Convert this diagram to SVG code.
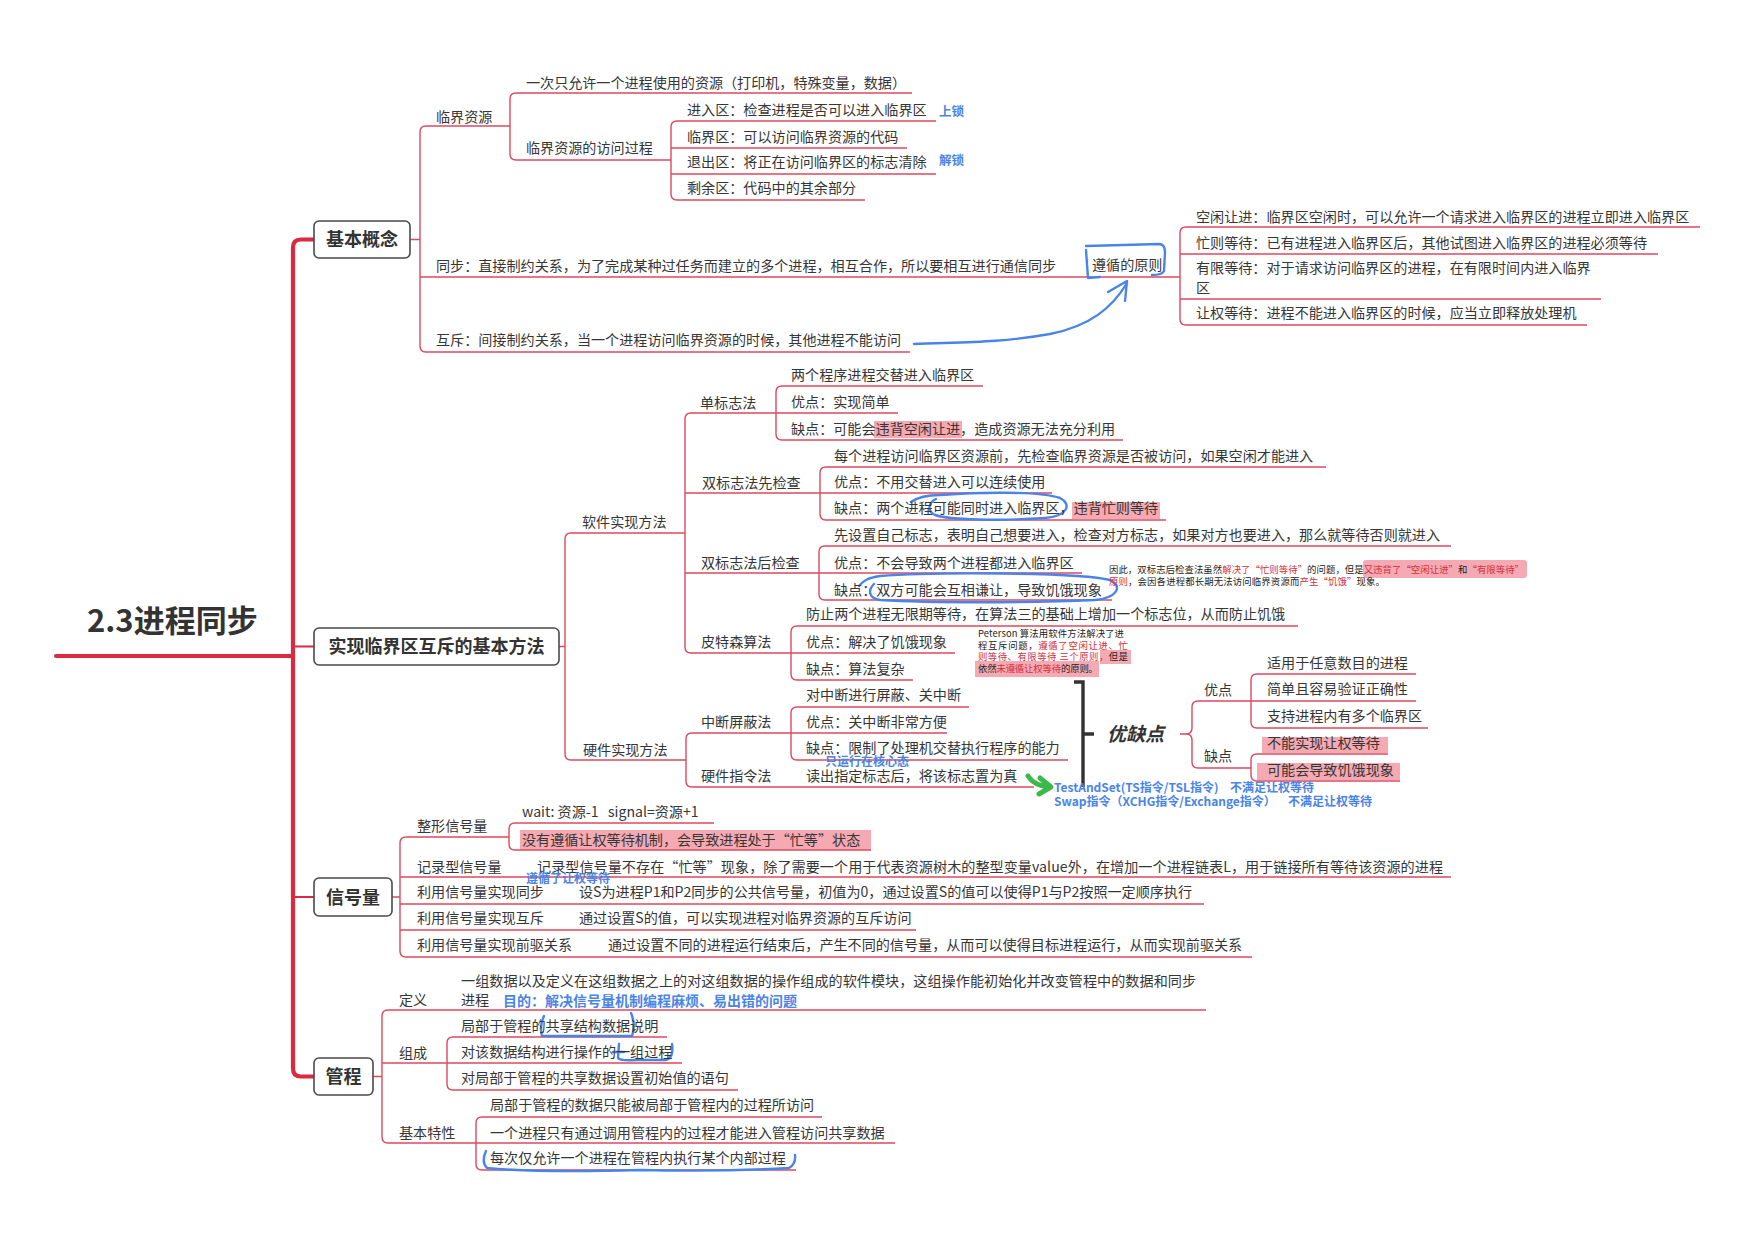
<svg xmlns="http://www.w3.org/2000/svg" width="1755" height="1240" viewBox="0 0 1755 1240">
<style>
.t{font-family:"Noto Sans CJK SC","Noto Sans",sans-serif;font-size:14.1px;fill:#363636}
.bx{fill:#fff;stroke:#4a4a4a;stroke-width:1.6}
.bt{font-family:"Noto Sans CJK SC","Noto Sans",sans-serif;font-size:18px;font-weight:bold;fill:#333;text-anchor:middle}
.ln{fill:none;stroke:#dc4a5e;stroke-width:1.4}
.tr{fill:none;stroke:#d92a3f;stroke-width:4.2;stroke-linecap:round}
.bl{font-family:"Noto Sans CJK SC","Noto Sans",sans-serif;font-weight:bold;fill:#4a84e8}
.hl{fill:#f4a0aa;opacity:0.9}
.sm{font-family:"Noto Sans CJK SC","Noto Sans",sans-serif;font-size:9.4px;fill:#222}
.rd{fill:#d2303c}
.pen{fill:none;stroke:#4a84e8;stroke-width:2.4;stroke-linecap:round;stroke-linejoin:round}
</style>

<!-- highlights -->
<g id="highlights">
<rect class="hl" x="874" y="421" width="88" height="17"/>
<rect class="hl" x="1072" y="502" width="88" height="17"/>
<rect class="hl" x="1363" y="560" width="164" height="18" rx="3"/>
<rect class="hl" x="1100" y="650" width="31" height="14"/>
<rect class="hl" x="975" y="661" width="124" height="16"/>
<rect class="hl" x="1262" y="737" width="126" height="16"/>
<rect class="hl" x="1257" y="763" width="143" height="17"/>
<rect class="hl" x="520" y="830" width="351" height="20"/>
</g>

<!-- connectors -->
<g id="connectors">
<path class="tr" d="M56 656 L293 656"/>
<path class="tr" d="M314 239.5 L301 239.5 Q293 239.5 293 247.5 L293 1068.5 Q293 1076.5 301 1076.5 L314 1076.5"/>
<path fill="none" stroke="#d92a3f" stroke-width="2" d="M293 646.5 L314 646.5 M293 897 L314 897"/>

<!-- 基本概念 -->
<path class="ln" d="M410 239.5 L420 239.5 M426 126 Q420 126 420 132 L420 346 Q420 352 426 352 M426 126 L510 126
M516 93 Q510 93 510 99 L510 154 Q510 160 516 160 M516 93 L912 93 M516 160 L671 160
M677 121 Q671 121 671 127 L671 194 Q671 200 677 200 M677 121 L936 121 M671 148 L907 148 M671 174 L936 174 M677 200 L865 200
M420 277 L1180 277 M1186 227 Q1180 227 1180 233 L1180 319 Q1180 325 1186 325
M1186 227 L1700 227 M1180 254 L1658 254 M1180 299 L1601 299 M1186 325 L1587 325 M426 352 L910 352"/>

<!-- 实现临界区互斥 -->
<path class="ln" d="M559 646.5 L565 646.5 M571 533 Q565 533 565 539 L565 754 Q565 760 571 760 M571 533 L685 533
M691 413 Q685 413 685 419 L685 647 Q685 653 691 653
M691 413 L776 413 M782 386 Q776 386 776 392 L776 434 Q776 440 782 440 M782 386 L983 386 M776 413 L898 413 M782 440 L1123 440
M685 493 L820 493 M826 467 Q820 467 820 473 L820 514 Q820 520 826 520 M826 467 L1326 467 M820 493 L1052 493 M826 520 L1166 520
M685 573 L819 573 M825 546 Q819 546 819 552 L819 594 Q819 600 825 600 M825 546 L1451 546 M819 573 L1082 573 M825 600 L1112 600
M691 653 L791 653 M797 626 Q791 626 791 632 L791 674 Q791 680 797 680 M797 626 L1298 626 M791 653 L955 653 M797 680 L913 680
M571 760 L686 760 M692 733 Q686 733 686 739 L686 781 Q686 787 692 787
M692 733 L791 733 M797 707 Q791 707 791 713 L791 754 Q791 760 797 760 M797 707 L969 707 M791 733 L947 733 M797 760 L1068 760
M692 787 L1034 787"/>

<!-- 优缺点 -->
<path fill="none" stroke="#333" stroke-width="3.4" d="M1074 682 L1083 682 L1083 787 M1083 734 L1094 734"/>
<path class="ln" d="M1180 734 L1186 734 Q1192 734 1192 728 L1192 707 Q1192 701 1198 701 L1251 701
M1186 734 Q1192 734 1192 740 L1192 762 Q1192 768 1198 768 L1251 768
M1257 674 Q1251 674 1251 680 L1251 722 Q1251 728 1257 728 M1257 674 L1416 674 M1251 701 L1416 701 M1257 728 L1428 728
M1257 754 Q1251 754 1251 760 L1251 775 Q1251 781 1257 781 M1257 754 L1388 754 M1257 781 L1400 781"/>

<!-- 信号量 -->
<path class="ln" d="M392 897 L400 897 M406 837 Q400 837 400 843 L400 951 Q400 957 406 957 M406 837 L509 837
M515 823 Q509 823 509 829 L509 844 Q509 850 515 850 M515 823 L714 823 M515 850 L871 850
M400 877 L1451 877 M400 904 L1204 904 M400 930 L916 930 M406 957 L1252 957"/>

<!-- 管程 -->
<path class="ln" d="M373 1076.5 L382 1076.5 M388 1010 Q382 1010 382 1016 L382 1137 Q382 1143 388 1143 M388 1010 L1206 1010
M382 1063 L447 1063 M453 1037 Q447 1037 447 1043 L447 1084 Q447 1090 453 1090 M453 1037 L667 1037 M447 1063 L682 1063 M453 1090 L738 1090
M388 1143 L476 1143 M482 1117 Q476 1117 476 1123 L476 1164 Q476 1170 482 1170 M482 1117 L822 1117 M476 1143 L895 1143 M482 1170 L796 1170"/>

<!-- hand-drawn marks -->
<path class="pen" d="M914 344 C960 342 1000 343 1050 334 C1090 326 1112 308 1127 283 M1108 292 L1127 281 L1125 301"/>
<path class="pen" d="M1086 250 L1088 278 L1100 277 M1086 246 L1160 244 Q1165 245 1165 252 L1164 271 Q1162 275 1152 275"/>
<path class="pen" d="M911 502 C918 497 926 495 940 495 C980 492 1040 491 1060 498 C1072 504 1068 516 1045 518 C1000 521 950 520 935 515 C927 511 928 503 936 499"/>
<path class="pen" d="M859 586 C864 580 868 578 880 576 C930 572 1080 572 1110 580 C1124 587 1116 598 1095 600 C1030 603 930 603 880 600 C868 598 868 590 874 584"/>
<path class="pen" d="M544 1016 Q539 1026 542 1036 L632 1036 Q636 1025 631 1013"/>
<path class="pen" d="M613 1052 L624 1052 M619 1044 L618 1058 Q620 1061 636 1060 L666 1060 Q674 1058 672 1044"/>
<path class="pen" d="M486 1151 Q481 1162 487 1168 Q540 1173 640 1170 Q720 1172 789 1168 Q796 1164 795 1155"/>
<path fill="none" stroke="#3cb94a" stroke-width="5" stroke-linecap="round" stroke-linejoin="round" d="M1028 776 Q1034 786 1050 787 M1040 778 L1051 787 L1039 794"/>
</g>

<!-- title -->
<g id="root"><text x="87" y="632" font-family="Noto Sans CJK SC, sans-serif" font-size="31" font-weight="bold" fill="#333">2.3进程同步</text></g>

<!-- level-1 boxes -->
<g id="n-jbgn"><rect class="bx" x="314" y="221" width="96" height="37" rx="5"/><text class="bt" x="362" y="246">基本概念</text></g>
<g id="n-sxljq"><rect class="bx" x="314" y="628" width="245" height="37" rx="5"/><text class="bt" x="436.5" y="653">实现临界区互斥的基本方法</text></g>
<g id="n-xhl"><rect class="bx" x="314" y="878" width="78" height="38" rx="5"/><text class="bt" x="353" y="903.5">信号量</text></g>
<g id="n-gc"><rect class="bx" x="314" y="1058" width="59" height="37" rx="5"/><text class="bt" x="343.5" y="1083">管程</text></g>

<!-- 基本概念 children -->
<g id="n-ljzy"><text class="t" x="436" y="122">临界资源</text></g>
<g id="n-ljzy1"><text class="t" x="526" y="88" textLength="380">一次只允许一个进程使用的资源（打印机，特殊变量，数据）</text></g>
<g id="n-fwgc"><text class="t" x="526" y="153">临界资源的访问过程</text></g>
<g id="n-jrq"><text class="t" x="687" y="115">进入区：检查进程是否可以进入临界区</text></g>
<g id="n-ljq"><text class="t" x="687" y="142">临界区：可以访问临界资源的代码</text></g>
<g id="n-tcq"><text class="t" x="687" y="167">退出区：将正在访问临界区的标志清除</text></g>
<g id="n-syq"><text class="t" x="687" y="193">剩余区：代码中的其余部分</text></g>
<g id="a-ss"><text class="bl" x="939" y="116" font-size="12.5">上锁</text></g>
<g id="a-js"><text class="bl" x="939" y="165" font-size="12.5">解锁</text></g>
<g id="n-tb"><text class="t" x="436" y="271">同步：直接制约关系，为了完成某种过任务而建立的多个进程，相互合作，所以要相互进行通信同步</text></g>
<g id="n-zxyz"><text class="t" x="1092" y="270">遵循的原则</text></g>
<g id="n-kxrj"><text class="t" x="1196" y="222">空闲让进：临界区空闲时，可以允许一个请求进入临界区的进程立即进入临界区</text></g>
<g id="n-mzdd"><text class="t" x="1196" y="248">忙则等待：已有进程进入临界区后，其他试图进入临界区的进程必须等待</text></g>
<g id="n-yxdd"><text class="t" x="1196" y="273">有限等待：对于请求访问临界区的进程，在有限时间内进入临界</text><text class="t" x="1196" y="293">区</text></g>
<g id="n-rqdd"><text class="t" x="1196" y="318">让权等待：进程不能进入临界区的时候，应当立即释放处理机</text></g>
<g id="n-hc"><text class="t" x="436" y="345">互斥：间接制约关系，当一个进程访问临界资源的时候，其他进程不能访问</text></g>

<!-- 实现临界区互斥 children -->
<g id="n-rj"><text class="t" x="582" y="527">软件实现方法</text></g>
<g id="n-dbz"><text class="t" x="700" y="408">单标志法</text></g>
<g id="n-dbz1"><text class="t" x="791" y="380">两个程序进程交替进入临界区</text></g>
<g id="n-dbz2"><text class="t" x="791" y="407">优点：实现简单</text></g>
<g id="n-dbz3"><text class="t" x="791" y="434">缺点：可能会违背空闲让进，造成资源无法充分利用</text></g>
<g id="n-sxj"><text class="t" x="702" y="488">双标志法先检查</text></g>
<g id="n-sxj1"><text class="t" x="834" y="461">每个进程访问临界区资源前，先检查临界资源是否被访问，如果空闲才能进入</text></g>
<g id="n-sxj2"><text class="t" x="834" y="487">优点：不用交替进入可以连续使用</text></g>
<g id="n-sxj3"><text class="t" x="834" y="513">缺点：两个进程可能同时进入临界区，违背忙则等待</text></g>
<g id="n-shj"><text class="t" x="701" y="568">双标志法后检查</text></g>
<g id="n-shj1"><text class="t" x="834" y="540">先设置自己标志，表明自己想要进入，检查对方标志，如果对方也要进入，那么就等待否则就进入</text></g>
<g id="n-shj2"><text class="t" x="834" y="568">优点：不会导致两个进程都进入临界区</text></g>
<g id="n-shj3"><text class="t" x="834" y="595">缺点：双方可能会互相谦让，导致饥饿现象</text></g>
<g id="a-shj"><text class="sm" x="1109" y="573" textLength="415">因此，双标志后检查法虽然<tspan class="rd">解决了“忙则等待”</tspan>的问题，但是<tspan class="rd">又违背了“空闲让进”</tspan>和<tspan class="rd">“有限等待”</tspan></text>
<text class="sm" x="1109" y="585" textLength="276"><tspan class="rd">原则</tspan>，会因各进程都长期无法访问临界资源而<tspan class="rd">产生“饥饿”</tspan>现象。</text></g>
<g id="n-pts"><text class="t" x="701" y="647">皮特森算法</text></g>
<g id="n-pts1"><text class="t" x="806" y="619">防止两个进程无限期等待，在算法三的基础上增加一个标志位，从而防止饥饿</text></g>
<g id="n-pts2"><text class="t" x="806" y="647">优点：解决了饥饿现象</text></g>
<g id="n-pts3"><text class="t" x="806" y="674">缺点：算法复杂</text></g>
<g id="a-pts"><text class="sm" x="978" y="637" textLength="146">Peterson 算法用软件方法解决了进</text>
<text class="sm" x="978" y="648.5" textLength="150">程互斥问题，<tspan class="rd">遵循了空闲让进、忙</tspan></text>
<text class="sm" x="978" y="660" textLength="150"><tspan class="rd">则等待、有限等待 三个原则，</tspan>但是</text>
<text class="sm" x="978" y="671.5" textLength="120">依然<tspan class="rd">未遵循让权等待</tspan>的原则。</text></g>
<g id="n-yj"><text class="t" x="583" y="755">硬件实现方法</text></g>
<g id="n-zd"><text class="t" x="701" y="727">中断屏蔽法</text></g>
<g id="n-zd1"><text class="t" x="806" y="700">对中断进行屏蔽、关中断</text></g>
<g id="n-zd2"><text class="t" x="806" y="727">优点：关中断非常方便</text></g>
<g id="n-zd3"><text class="t" x="806" y="753">缺点：限制了处理机交替执行程序的能力</text></g>
<g id="a-hxt"><text class="bl" x="825" y="766" font-size="12">只运行在核心态</text></g>
<g id="n-zl"><text class="t" x="701" y="781">硬件指令法</text><text class="t" x="806" y="781">读出指定标志后，将该标志置为真</text></g>
<g id="a-ts"><text class="bl" x="1054" y="792" font-size="12">TestAndSet(TS指令/TSL指令)<tspan x="1230">不满足让权等待</tspan></text>
<text class="bl" x="1054" y="806" font-size="12">Swap指令（XCHG指令/Exchange指令）<tspan x="1288">不满足让权等待</tspan></text></g>

<!-- 优缺点 -->
<g id="n-yqd"><text x="1107" y="741" font-family="Noto Sans CJK SC, sans-serif" font-size="19" font-weight="bold" font-style="italic" fill="#333">优缺点</text></g>
<g id="n-yd"><text class="t" x="1204" y="695">优点</text></g>
<g id="n-yd1"><text class="t" x="1267" y="668">适用于任意数目的进程</text></g>
<g id="n-yd2"><text class="t" x="1267" y="694">简单且容易验证正确性</text></g>
<g id="n-yd3"><text class="t" x="1267" y="721">支持进程内有多个临界区</text></g>
<g id="n-qd"><text class="t" x="1204" y="761">缺点</text></g>
<g id="n-qd1"><text class="t" x="1267" y="748">不能实现让权等待</text></g>
<g id="n-qd2"><text class="t" x="1267" y="775">可能会导致饥饿现象</text></g>

<!-- 信号量 children -->
<g id="n-zx"><text class="t" x="417" y="831">整形信号量</text></g>
<g id="n-zx1"><text class="t" x="522" y="817">wait: 资源-1<tspan x="608">signal=资源+1</tspan></text></g>
<g id="n-zx2"><text class="t" x="522" y="845">没有遵循让权等待机制，会导致进程处于“忙等”状态</text></g>
<g id="n-jl"><text class="t" x="417" y="872">记录型信号量</text><text class="t" x="537" y="872" textLength="906">记录型信号量不存在“忙等”现象，除了需要一个用于代表资源树木的整型变量value外，在增加一个进程链表L，用于链接所有等待该资源的进程</text></g>
<g id="a-zx"><text class="bl" x="526" y="883" font-size="12">遵循了让权等待</text></g>
<g id="n-tb2"><text class="t" x="417" y="897">利用信号量实现同步</text><text class="t" x="579" y="897">设S为进程P1和P2同步的公共信号量，初值为0，通过设置S的值可以使得P1与P2按照一定顺序执行</text></g>
<g id="n-hc2"><text class="t" x="417" y="923">利用信号量实现互斥</text><text class="t" x="579" y="923">通过设置S的值，可以实现进程对临界资源的互斥访问</text></g>
<g id="n-qq"><text class="t" x="417" y="950">利用信号量实现前驱关系</text><text class="t" x="608" y="950">通过设置不同的进程运行结束后，产生不同的信号量，从而可以使得目标进程运行，从而实现前驱关系</text></g>

<!-- 管程 children -->
<g id="n-dy"><text class="t" x="399" y="1005">定义</text><text class="t" x="461" y="986" textLength="735">一组数据以及定义在这组数据之上的对这组数据的操作组成的软件模块，这组操作能初始化并改变管程中的数据和同步</text><text class="t" x="461" y="1005">进程</text></g>
<g id="a-md"><text class="bl" x="503" y="1006" font-size="14">目的：解决信号量机制编程麻烦、易出错的问题</text></g>
<g id="n-zc"><text class="t" x="399" y="1058">组成</text></g>
<g id="n-zc1"><text class="t" x="461" y="1031">局部于管程的共享结构数据说明</text></g>
<g id="n-zc2"><text class="t" x="461" y="1057">对该数据结构进行操作的一组过程</text></g>
<g id="n-zc3"><text class="t" x="461" y="1083">对局部于管程的共享数据设置初始值的语句</text></g>
<g id="n-tx"><text class="t" x="399" y="1138">基本特性</text></g>
<g id="n-tx1"><text class="t" x="490" y="1110">局部于管程的数据只能被局部于管程内的过程所访问</text></g>
<g id="n-tx2"><text class="t" x="490" y="1138">一个进程只有通过调用管程内的过程才能进入管程访问共享数据</text></g>
<g id="n-tx3"><text class="t" x="490" y="1163">每次仅允许一个进程在管程内执行某个内部过程</text></g>
</svg>
